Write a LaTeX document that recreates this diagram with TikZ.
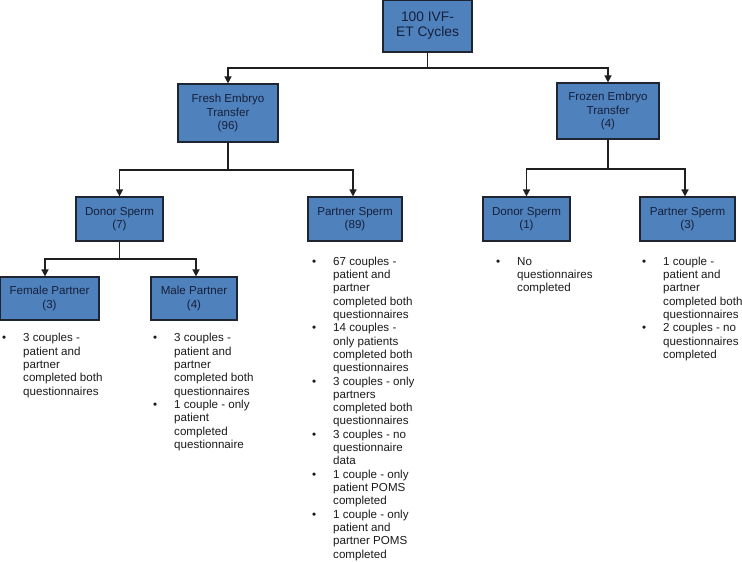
\documentclass[tikz,border=0pt]{standalone}
\usepackage{fontspec}
\setmainfont{Liberation Sans}
\usetikzlibrary{arrows.meta}
\definecolor{boxfill}{HTML}{4F81BD}
\definecolor{boxline}{HTML}{1E2430}
\definecolor{boxtext}{HTML}{16203A}
\definecolor{listtext}{HTML}{1A1A1A}
\newcommand{\bl}{\strut\llap{•\hspace{17pt}}}
\begin{document}
\begin{tikzpicture}[x=1pt,y=-1pt,
  box/.style={draw=boxline, fill=boxfill, line width=1.2pt, text=boxtext, align=center, inner sep=0pt,
    font=\fontsize{11.6}{13.3}\selectfont},
  conn/.style={line width=1.5pt, draw=black!88},
  arr/.style={conn, -{Triangle[width=7pt,length=7pt]}},
  listtxt/.style={anchor=north west, align=left, inner sep=0pt, text=listtext,
    font=\fontsize{11.6}{13.33}\selectfont}]
\useasboundingbox (0,0) rectangle (742,562);

% boxes
\node[box, minimum width=89pt, minimum height=52pt, font=\fontsize{13.8}{15}\selectfont] (top) at (427.5,26) {100 IVF-\\ET Cycles};
\node[box, minimum width=100pt, minimum height=58pt] (fresh) at (228,113) {Fresh Embryo\\Transfer\\(96)};
\node[box, minimum width=102pt, minimum height=56pt] (frozen) at (608,111) {Frozen Embryo\\Transfer\\(4)};
\node[box, minimum width=87pt, minimum height=44pt] (donorA) at (119.5,219) {Donor Sperm\\(7)};
\node[box, minimum width=94pt, minimum height=44pt] (partnerA) at (355,219) {Partner Sperm\\(89)};
\node[box, minimum width=87pt, minimum height=44pt] (donorB) at (526.5,219) {Donor Sperm\\(1)};
\node[box, minimum width=95pt, minimum height=44pt] (partnerB) at (687.5,219) {Partner Sperm\\(3)};
\node[box, minimum width=99pt, minimum height=43pt] (female) at (49.5,298.5) {Female Partner\\(3)};
\node[box, minimum width=86pt, minimum height=43pt] (male) at (194,298.5) {Male Partner\\(4)};

% connectors
\coordinate (j1) at (427.5,68);
\coordinate (j2) at (228,170);
\coordinate (j3) at (608,169);
\coordinate (j4) at (119.5,259);
\draw[conn] (top.south) -- (j1);
\draw[arr] (j1) -| (fresh.north);
\draw[arr] (j1) -| (frozen.north);
\draw[conn] (fresh.south) -- (j2);
\draw[arr] (j2) -| (donorA.north);
\draw[arr] (j2) -| ([xshift=-2pt]partnerA.north);
\draw[conn] (frozen.south) -- (j3);
\draw[arr] (j3) -| (donorB.north);
\draw[arr] (j3) -| ([xshift=-2.5pt]partnerB.north);
\draw[conn] (donorA.south) -- (j4);
\draw[arr] (j4) -| ([xshift=-4.5pt]female.north);
\draw[arr] (j4) -| ([xshift=2pt]male.north);

% lists
\node[listtxt] (lfemale) at (23,332.3) {\bl 3 couples -\\patient and\\partner\\completed both\\questionnaires};
\node[listtxt] (lmale) at (174,332.3) {\bl 3 couples -\\patient and\\partner\\completed both\\questionnaires\\
\bl 1 couple - only\\patient\\completed\\questionnaire};
\node[listtxt] (lpartnerA) at (333,255.5) {\bl 67 couples -\\patient and\\partner\\completed both\\questionnaires\\
\bl 14 couples -\\only patients\\completed both\\questionnaires\\
\bl 3 couples - only\\partners\\completed both\\questionnaires\\
\bl 3 couples - no\\questionnaire\\data\\
\bl 1 couple - only\\patient POMS\\completed\\
\bl 1 couple - only\\patient and\\partner POMS\\completed};
\node[listtxt] (ldonorB) at (517,255.5) {\bl No\\questionnaires\\completed};
\node[listtxt] (lpartnerB) at (663,255.5) {\bl 1 couple -\\patient and\\partner\\completed both\\questionnaires\\
\bl 2 couples - no\\questionnaires\\completed};
\end{tikzpicture}
\end{document}
